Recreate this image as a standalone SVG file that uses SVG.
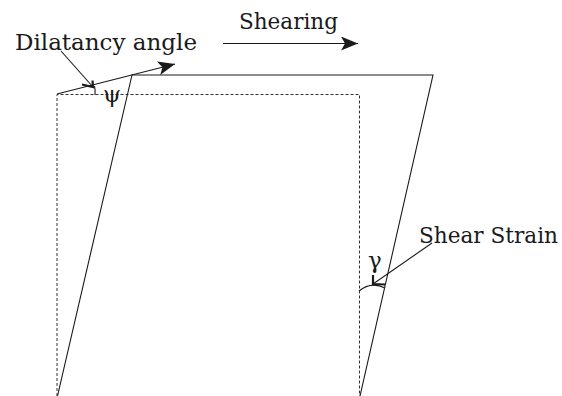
<svg xmlns="http://www.w3.org/2000/svg" width="562" height="396" viewBox="0 0 562 396">
<defs>
<style>
.solid{fill:none;stroke:#1a1a1a;stroke-width:1.1}
.dash{fill:none;stroke:#333;stroke-width:1;stroke-dasharray:3 2}
text{font-family:'DejaVu Serif',serif;font-size:23px;fill:#1a1a1a}
.head{fill:#1a1a1a;stroke:none}
.barb{fill:none;stroke:#1a1a1a;stroke-width:2.2;stroke-linecap:butt}
</style>
<marker id="tri" markerWidth="18" markerHeight="14" refX="17" refY="7" orient="auto" markerUnits="userSpaceOnUse">
<path d="M0,0 L17,7 L0,14 L4,7 Z" class="head"/>
</marker>
</defs>
<rect width="562" height="396" fill="#fff"/>
<g id="original-block">
<path class="dash" d="M57,396 V94.5 H359.5 V396"/>
</g>
<g id="sheared-block">
<path class="solid" d="M57.5,396 L132,75 H433 L360,396"/>
</g>
<g id="connectors">
<line class="solid" x1="57" y1="94" x2="175" y2="64" marker-end="url(#tri)"/>
<line class="solid" x1="223" y1="43.5" x2="358" y2="43.5" marker-end="url(#tri)"/>
<line class="solid" x1="61" y1="51" x2="93" y2="87"/>
<path class="barb" d="M82,84.5 L93,87 L92.5,80.5"/>
<path class="solid" d="M94.5,86 Q95.5,90 95,95"/>
<line class="solid" x1="432" y1="243" x2="373" y2="284"/>
<path class="barb" d="M373,275 L373,284 L385,284.5"/>
<path class="solid" d="M359,291 Q371,281 385,288"/>
</g>
<g id="labels">
<text x="15" y="50" textLength="182" lengthAdjust="spacingAndGlyphs">Dilatancy angle</text>
<text x="239" y="29" textLength="99" lengthAdjust="spacingAndGlyphs">Shearing</text>
<text x="419" y="243" textLength="139" lengthAdjust="spacingAndGlyphs">Shear Strain</text>
<text x="103" y="102">ψ</text>
<text x="368" y="268">γ</text>
</g>
</svg>
